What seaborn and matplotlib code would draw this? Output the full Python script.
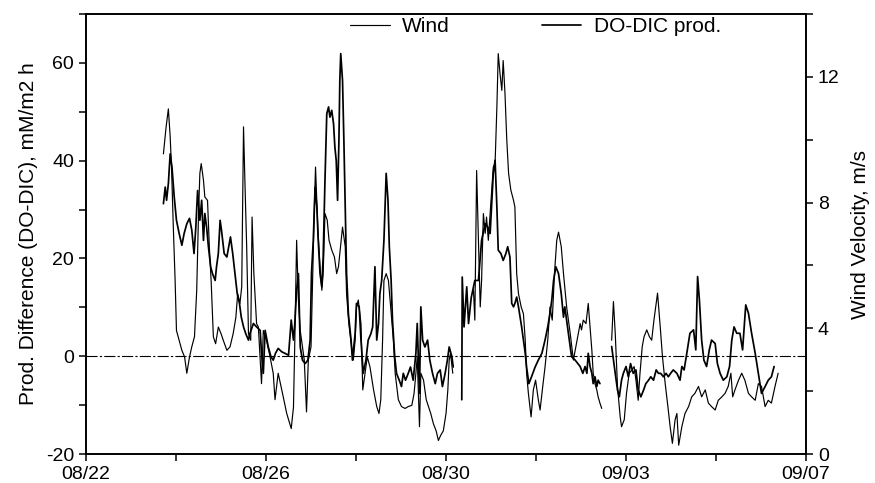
import numpy as np
import pandas as pd
import matplotlib
matplotlib.use("Agg")
import matplotlib.pyplot as plt
import seaborn as sns
from matplotlib.ticker import MultipleLocator

sns.set_style("ticks")
plt.rcParams['font.family'] = ['Liberation Sans', 'DejaVu Sans']
plt.rcParams['axes.unicode_minus'] = False
plt.rcParams['text.color'] = 'black'
plt.rcParams['axes.labelcolor'] = 'black'

# x axis: days since 08/22
day_ticks = [0, 4, 8, 12, 16]
day_labels = ["08/22", "08/26", "08/30", "09/03", "09/07"]
prod_ticks = [-20, 0, 20, 40, 60]
wind_ticks = [0, 4, 8, 12]

nan = np.nan

# Wind velocity (m/s), right axis
wind_day = [
    1.72, 1.78, 1.83, 1.87, 1.90, 1.94, 1.98, 2.01, 2.07, 2.13,
    2.19, 2.24, 2.30, 2.35, 2.41, 2.46, 2.50, 2.53, 2.56, 2.61,
    2.64, 2.70, 2.74, 2.78, 2.83, 2.88, 2.94, 3.00, 3.05, 3.13,
    3.20, 3.27, 3.33, 3.37, 3.42, 3.46, 3.50, 3.53, 3.57, 3.61,
    3.66, 3.69, 3.73, 3.79, 3.83, 3.90, 3.94, 4.01, 4.09, 4.16,
    4.20, 4.27, 4.35, 4.46, 4.56, 4.61, 4.64, 4.68, 4.72, 4.76,
    4.79, 4.85, 4.90, 4.94, 5.00, 5.03, 5.07, 5.10, 5.15, 5.20,
    5.24, 5.27, 5.31, 5.36, 5.40, 5.46, 5.52, 5.57, 5.61, 5.67,
    5.70, 5.76, 5.79, 5.84, 5.90, 5.94, 5.98, 6.01, 6.05, 6.11,
    6.15, 6.20, 6.25, 6.31, 6.39, 6.46, 6.51, 6.55, 6.59, 6.62,
    6.67, 6.72, 6.77, 6.83, 6.87, 6.94, 7.01, 7.09, 7.16, 7.24,
    7.29, 7.33, 7.36, 7.41, 7.44, 7.50, 7.56, 7.61, 7.66, 7.72,
    7.78, 7.83, 7.88, 7.94, 8.00, 8.04, 8.07, 8.10, 8.15, 8.30,
    8.61, 8.64, 8.68, 8.72, 8.76, 8.79, 8.83, 8.87, 8.90, 8.94,
    8.98, 9.05, 9.09, 9.13, 9.16, 9.20, 9.24, 9.27, 9.31, 9.35,
    9.39, 9.44, 9.50, 9.53, 9.57, 9.61, 9.67, 9.72, 9.76, 9.79,
    9.83, 9.89, 9.94, 9.99, 10.05, 10.09, 10.14, 10.20, 10.26, 10.31,
    10.36, 10.41, 10.46, 10.50, 10.56, 10.61, 10.68, 10.76, 10.83, 10.98,
    11.01, 11.05, 11.11, 11.16, 11.20, 11.24, 11.27, 11.31, 11.35, 11.38,
    11.42, 11.46, 11.55, 11.68, 11.72, 11.76, 11.81, 11.87, 11.90, 11.96,
    12.01, 12.07, 12.13, 12.18, 12.22, 12.27, 12.31, 12.36, 12.40, 12.46,
    12.52, 12.57, 12.62, 12.70, 12.76, 12.81, 12.87, 12.93, 12.98, 13.03,
    13.09, 13.13, 13.17, 13.24, 13.31, 13.39, 13.46, 13.53, 13.61, 13.68,
    13.76, 13.83, 13.90, 13.98, 14.05, 14.13, 14.20, 14.27, 14.33, 14.37,
    14.42, 14.50, 14.57, 14.64, 14.72, 14.79, 14.87, 14.94, 15.01, 15.09,
    15.16, 15.23, 15.31, 15.38,
]
wind_ms = [
    9.55, 10.41, 10.98, 10.10, 9.13, 7.22, 5.52, 3.93, 3.62, 3.30,
    3.09, 2.57, 3.09, 3.41, 3.73, 5.21, 7.65, 8.93, 9.24, 8.71,
    8.18, 8.07, 6.60, 5.52, 3.73, 3.51, 4.04, 3.83, 3.62, 3.30,
    3.41, 3.83, 4.35, 5.10, 4.79, 5.32, 10.41, 8.71, 6.60, 3.83,
    3.62, 7.54, 5.74, 4.15, 4.04, 2.24, 3.93, 3.62, 3.09, 2.57,
    1.73, 2.57, 2.04, 1.29, 0.81, 1.49, 3.62, 6.80, 4.90, 3.93,
    3.62, 2.99, 1.34, 2.99, 3.41, 5.21, 7.65, 9.13, 7.22, 5.96,
    5.21, 5.74, 7.65, 7.44, 6.80, 6.49, 6.27, 5.74, 5.96, 6.80,
    7.22, 6.60, 5.10, 4.15, 3.41, 2.99, 3.62, 4.68, 4.90, 4.15,
    2.04, 2.57, 3.09, 2.77, 2.04, 1.51, 1.29, 1.73, 3.62, 5.52,
    5.74, 5.52, 4.68, 3.62, 2.57, 1.73, 1.51, 1.45, 1.51, 1.55,
    1.93, 2.57, 3.09, 0.87, 2.57, 2.35, 1.73, 1.51, 1.29, 0.96,
    0.74, 0.43, 0.59, 0.74, 1.29, 2.04, 2.99, 3.20, 2.57, nan,
    5.21, 4.26, 9.02, 6.80, 4.68, 5.52, 7.65, 7.02, 7.54, 6.80,
    7.65, 9.13, 9.24, 11.05, 12.74, 12.10, 11.57, 12.52, 11.47, 9.99,
    8.93, 8.40, 8.07, 7.86, 5.74, 5.10, 4.68, 4.46, 3.62, 2.57,
    1.93, 1.18, 2.04, 2.35, 1.73, 1.40, 2.04, 2.77, 3.62, 4.68,
    4.26, 5.74, 6.80, 7.06, 6.60, 5.74, 4.68, 3.83, 2.99, 4.15,
    3.95, 4.26, 4.15, 4.79, 4.04, 3.31, 2.57, 2.24, 2.04, 1.82,
    1.62, 1.45, nan, 3.62, 4.85, 3.84, 2.15, 1.18, 0.87, 1.09,
    1.93, 2.57, 2.67, 2.78, 2.35, 1.71, 2.57, 3.42, 3.73, 3.95,
    3.73, 3.62, 4.26, 5.12, 4.04, 3.09, 2.24, 1.51, 0.87, 0.34,
    1.09, 1.29, 0.28, 0.87, 1.29, 1.51, 1.82, 1.93, 2.15, 1.82,
    2.04, 1.62, 1.51, 1.40, 1.71, 1.82, 1.93, 2.15, 2.57, 1.82,
    2.04, 2.35, 2.57, 2.35, 1.93, 1.82, 1.71, 2.24, 2.15, 1.51,
    1.71, 1.62, 2.15, 2.57,
]

# DO-DIC production difference (mM/m2 h), left axis
prod_day = [
    1.72, 1.76, 1.79, 1.83, 1.87, 1.91, 1.96, 2.01, 2.07, 2.13,
    2.18, 2.24, 2.30, 2.35, 2.40, 2.44, 2.48, 2.53, 2.57, 2.61,
    2.64, 2.68, 2.72, 2.77, 2.81, 2.87, 2.90, 2.94, 2.98, 3.01,
    3.07, 3.13, 3.17, 3.21, 3.26, 3.31, 3.36, 3.41, 3.45, 3.50,
    3.55, 3.61, 3.64, 3.72, 3.79, 3.87, 3.90, 3.94, 3.98, 4.05,
    4.11, 4.16, 4.21, 4.27, 4.35, 4.42, 4.50, 4.56, 4.61, 4.64,
    4.68, 4.72, 4.76, 4.81, 4.87, 4.93, 4.98, 5.01, 5.05, 5.09,
    5.13, 5.16, 5.20, 5.24, 5.27, 5.31, 5.35, 5.39, 5.42, 5.46,
    5.50, 5.53, 5.56, 5.59, 5.62, 5.64, 5.66, 5.70, 5.73, 5.76,
    5.79, 5.83, 5.89, 5.92, 5.98, 6.01, 6.07, 6.11, 6.16, 6.22,
    6.27, 6.33, 6.37, 6.42, 6.46, 6.50, 6.53, 6.57, 6.62, 6.67,
    6.71, 6.74, 6.78, 6.81, 6.86, 6.90, 6.96, 7.01, 7.05, 7.10,
    7.16, 7.21, 7.27, 7.33, 7.36, 7.41, 7.44, 7.48, 7.53, 7.59,
    7.64, 7.70, 7.76, 7.81, 7.87, 7.92, 7.98, 8.03, 8.07, 8.13,
    8.16, 8.25, 8.35, 8.36, 8.40, 8.46, 8.50, 8.56, 8.64, 8.72,
    8.79, 8.87, 8.93, 8.98, 9.05, 9.09, 9.13, 9.16, 9.22, 9.27,
    9.33, 9.37, 9.42, 9.46, 9.50, 9.53, 9.57, 9.61, 9.68, 9.72,
    9.76, 9.79, 9.84, 9.90, 9.98, 10.05, 10.13, 10.20, 10.26, 10.31,
    10.35, 10.39, 10.44, 10.50, 10.56, 10.61, 10.64, 10.72, 10.79, 10.87,
    10.98, 11.04, 11.09, 11.13, 11.16, 11.20, 11.24, 11.27, 11.31, 11.35,
    11.38, 11.42, 11.55, 11.68, 11.76, 11.81, 11.85, 11.90, 11.94, 12.00,
    12.05, 12.10, 12.16, 12.22, 12.27, 12.33, 12.39, 12.44, 12.50, 12.55,
    12.61, 12.67, 12.72, 12.77, 12.83, 12.89, 12.94, 12.99, 13.05, 13.13,
    13.20, 13.24, 13.29, 13.35, 13.42, 13.50, 13.55, 13.59, 13.63, 13.68,
    13.73, 13.79, 13.85, 13.90, 13.98, 14.03, 14.09, 14.16, 14.24, 14.30,
    14.35, 14.40, 14.46, 14.53, 14.59, 14.66, 14.72, 14.79, 14.87, 14.94,
    15.01, 15.09, 15.16, 15.23, 15.29,
]
prod_val = [
    31.2, 34.6, 31.9, 35.3, 41.4, 38.7, 32.6, 27.8, 25.1, 22.7,
    25.1, 27.1, 28.2, 25.8, 21.0, 26.4, 33.9, 27.8, 31.9, 23.7,
    29.2, 26.4, 22.4, 18.3, 16.9, 15.5, 18.3, 21.0, 27.8, 25.8,
    21.0, 20.3, 22.4, 24.4, 21.0, 16.9, 12.8, 10.8, 8.0, 6.0,
    4.6, 3.3, 4.6, 6.7, 6.0, 5.3, 0.6, -3.5, 5.3, 1.9,
    -0.1, -0.8, 0.6, 1.6, 0.9, 0.6, 0.2, 7.4, 3.3, 6.7,
    13.5, 16.9, 1.9, -0.8, -1.5, -0.8, 3.3, 16.9, 23.7, 34.6,
    30.5, 23.7, 16.9, 14.2, 20.3, 36.0, 49.6, 51.0, 48.9, 50.3,
    47.6, 42.8, 40.0, 31.9, 44.2, 56.4, 61.9, 56.4, 44.2, 30.5,
    16.9, 8.7, 3.3, -0.8, 4.6, 10.8, 10.1, 3.3, -3.5, -0.8,
    3.3, 4.6, 6.0, 18.3, 3.3, 6.7, 12.8, 15.5, 23.7, 37.4,
    31.9, 22.4, 15.5, 7.4, -0.1, -3.5, -4.9, -6.2, -3.5, -4.9,
    -3.5, -2.2, -4.9, 0.6, 6.7, -7.6, 10.1, 3.3, 1.9, 3.3,
    -0.8, -3.5, -5.6, -3.5, -2.8, -6.2, -3.5, -0.8, 1.9, -0.1,
    -2.2, nan, -8.9, 16.2, 6.0, 14.2, 6.7, 12.0, 15.5, 15.5,
    23.7, 27.1, 26.4, 25.1, 37.4, 40.1, 30.5, 21.7, 21.0, 19.6,
    21.0, 22.4, 20.3, 10.8, 10.1, 10.8, 12.1, 10.1, 6.0, 3.3,
    0.6, -2.2, -5.6, -4.2, -2.2, -0.8, 0.6, 3.3, 6.0, 8.7,
    11.5, 15.5, 18.3, 16.9, 12.8, 8.0, 10.1, 4.6, -0.1, -0.8,
    -2.1, -3.5, -2.1, -3.5, 0.6, -2.1, -3.5, -5.6, -4.2, -6.2,
    -4.9, -5.6, nan, 2.0, -3.5, -6.9, -8.3, -4.9, -3.5, -2.1,
    -4.2, -1.5, -3.5, -2.8, -6.9, -8.3, -6.9, -5.6, -4.9, -4.2,
    -4.9, -2.8, -3.5, -3.5, -4.2, -3.5, -4.2, -3.5, -2.8, -3.5,
    -4.9, -2.1, -2.8, 0.6, 4.7, 5.4, 1.3, 16.3, 11.5, 3.3,
    -0.8, -2.1, 1.3, 3.3, 2.6, -1.5, -3.5, -4.9, -4.2, -2.1,
    3.3, 6.0, 4.7, 4.7, 1.3, 10.5, 8.8, 4.7, 0.6, -3.5,
    -7.6, -6.2, -4.9, -4.2, -2.1,
]

assert len(wind_day) == len(wind_ms)
assert len(prod_day) == len(prod_val)


def to_frame(days, vals):
    rows, seg = [], 0
    for d, v in zip(days, vals):
        if np.isnan(v):
            seg += 1
            continue
        rows.append((d, v, seg))
    return pd.DataFrame(rows, columns=["day", "value", "seg"])


df_wind = to_frame(wind_day, wind_ms)
df_prod = to_frame(prod_day, prod_val)

fig = plt.figure(figsize=(8.75, 4.83), dpi=100)
ax = fig.add_axes([0.0983, 0.060, 0.8229, 0.911])

sns.lineplot(data=df_prod, x="day", y="value", units="seg", estimator=None,
             sort=False, color="black", lw=1.25, ax=ax, legend=False)
ax2 = ax.twinx()
sns.lineplot(data=df_wind, x="day", y="value", units="seg", estimator=None,
             sort=False, color="black", lw=0.85, ax=ax2, legend=False)

prod_line = ax.lines[0]
wind_line = ax2.lines[0]

ax.axhline(0, color="black", lw=0.8, ls=(0, (10, 2, 2, 2)), zorder=1)

ax.set_xlim(0, 16)
ax.set_ylim(-20, 70)
ax2.set_ylim(0, 14)

ax.set_xticks(day_ticks)
ax.set_xticklabels(day_labels)
ax.xaxis.set_minor_locator(MultipleLocator(2))
ax.set_yticks(prod_ticks)
ax.yaxis.set_minor_locator(MultipleLocator(10))
ax2.set_yticks(wind_ticks)
ax2.yaxis.set_minor_locator(MultipleLocator(2))

for a in (ax, ax2):
    a.tick_params(which="both", direction="out", length=5, width=1.1,
                  labelsize=14, colors="black")
    for s in a.spines.values():
        s.set_linewidth(1.2)
        s.set_color("black")
        s.set_visible(True)

ax.set_xlabel("")
ax.set_ylabel("Prod. Difference (DO-DIC), mM/m2 h", fontsize=15, labelpad=6,
              color="black")
ax2.set_ylabel("Wind Velocity, m/s", fontsize=15, labelpad=8, color="black")

leg = ax2.legend([wind_line, prod_line], ["Wind", "DO-DIC prod."],
                 loc="upper left", bbox_to_anchor=(0.367, 0.993), ncol=2,
                 frameon=False, fontsize=15, handlelength=1.9,
                 handletextpad=0.6, columnspacing=4.4, borderpad=0,
                 borderaxespad=0, labelcolor="black")

fig.savefig("out.png", dpi=100)
